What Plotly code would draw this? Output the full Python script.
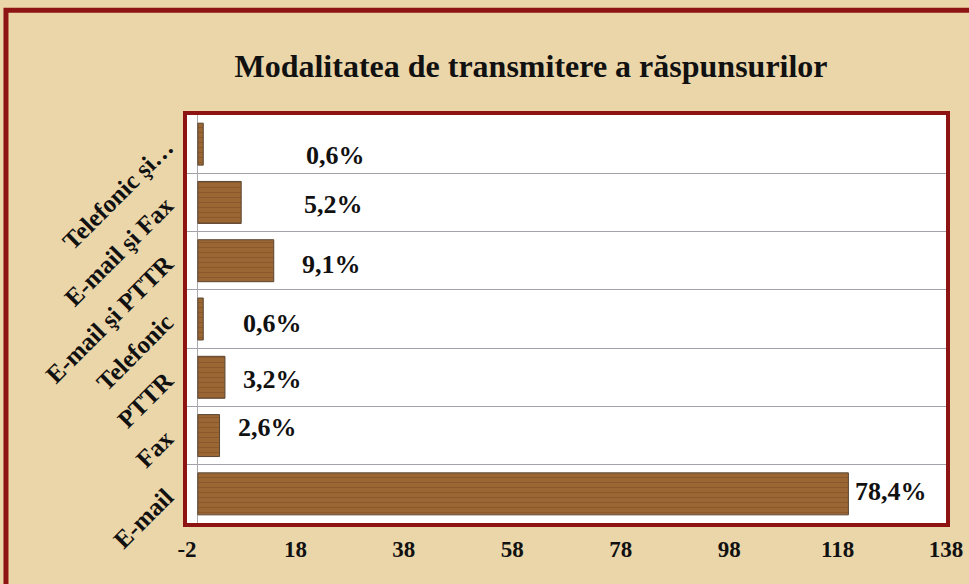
import plotly.graph_objects as go

# ---- data ----
categories = ["E-mail", "Fax", "PTTR", "Telefonic", "E-mail şi PTTR", "E-mail şi Fax", "Telefonic şi…"]
counts = [120, 4, 5, 1, 14, 8, 1]
percent_labels = ["78,4%", "2,6%", "3,2%", "0,6%", "9,1%", "5,2%", "0,6%"]
tick_values = [-2, 18, 38, 58, 78, 98, 118, 138]
title_text = "Modalitatea de transmitere a răspunsurilor"

# ---- style ----
label_shift_px = [43, 48, 48, 69, 58, 92, 132]
label_yshift_px = [2, 8, -2, -4, -4, -2, -11]
SERIF = "Liberation Serif, Times New Roman, serif"
DARKRED = "#8E1414"

fig = go.Figure()
fig.add_trace(go.Bar(
    y=categories, x=counts, orientation="h",
    width=0.72,
    marker=dict(
        color="#93602F",
        line=dict(color="#5A4632", width=1),
        pattern=dict(shape="-", fgcolor="#7A4A22", bgcolor="#9A6634", size=5, solidity=0.22),
    ),
    hoverinfo="x+y",
))

for cat, val, lab, dx, dy in zip(categories, counts, percent_labels, label_shift_px, label_yshift_px):
    fig.add_annotation(
        x=val, y=cat, xref="x", yref="y", text=f"<b>{lab}</b>", showarrow=False,
        xanchor="center", yanchor="middle", xshift=dx, yshift=dy,
        font=dict(family=SERIF, size=26, color="#111111"),
    )

# outer frame
fig.add_shape(type="rect", xref="paper", yref="paper",
              x0=-0.2385, x1=1.04, y0=-0.2, y1=1.257,
              line=dict(color=DARKRED, width=5), layer="below")

fig.update_layout(
    width=969, height=584,
    margin=dict(l=187, r=23, t=115, b=61),
    paper_bgcolor="#EAD6A9",
    plot_bgcolor="#FFFFFF",
    showlegend=False,
    title=dict(text=title_text, x=0.548, xanchor="center", y=0.888, yanchor="middle",
               font=dict(family=SERIF, size=32, color="#111111", weight="bold")),
    xaxis=dict(
        range=[-2, 138], tickvals=tick_values, ticktext=[str(v) for v in tick_values],
        showgrid=False, zeroline=True, zerolinecolor="#A8A8A8", zerolinewidth=1,
        showline=True, mirror=True, linecolor=DARKRED, linewidth=4,
        ticks="", tickfont=dict(family=SERIF, size=23, color="#111111", weight="bold"),
        ticklabelstandoff=2, automargin=False,
    ),
    yaxis=dict(
        type="category", categoryorder="array", categoryarray=categories,
        tickson="boundaries", showgrid=True, gridcolor="#A0A4AA", gridwidth=1,
        showline=True, mirror=True, linecolor=DARKRED, linewidth=4,
        ticks="", tickangle=-45,
        tickfont=dict(family=SERIF, size=25, color="#111111", weight="bold"),
        ticklabelstandoff=12, automargin=False,
    ),
    bargap=0.28,
)

fig.write_html("out.html", config={"displayModeBar": False},
               post_script="document.body.style.margin='0';document.body.style.overflow='hidden';")
